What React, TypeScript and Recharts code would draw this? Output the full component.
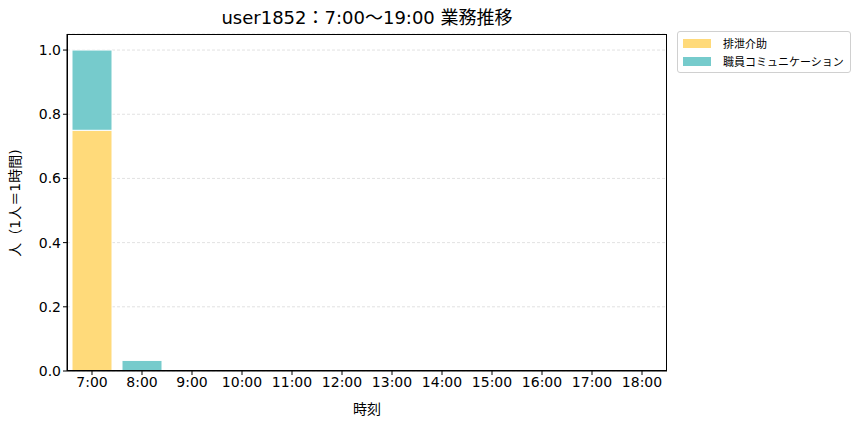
import React from 'react';
import { BarChart, Bar, XAxis, YAxis, CartesianGrid } from 'recharts';

const hours = ['7:00', '8:00', '9:00', '10:00', '11:00', '12:00', '13:00', '14:00', '15:00', '16:00', '17:00', '18:00'];
const excretion = [0.75, 0, 0, 0, 0, 0, 0, 0, 0, 0, 0, 0];
const staffComm = [0.25, 0.033, 0, 0, 0, 0, 0, 0, 0, 0, 0, 0];
const yTicks = [0, 0.2, 0.4, 0.6, 0.8, 1.0];

const seriesNames = ['排泄介助', '職員コミュニケーション'];
const seriesColors = ['#FFDA7A', '#76CBCC'];

const data = hours.map((h, i) => ({ hour: h, excretion: excretion[i], staffComm: staffComm[i] }));

const font = '"DejaVu Sans", "Noto Sans CJK JP", sans-serif';

// plot area in page pixels
const plot = { left: 67, top: 34, width: 600, height: 337 };

const LegendBox = () => (
  <div
    style={{
      position: 'absolute',
      left: 677,
      top: 31,
      border: '1px solid #d0d0d0',
      borderRadius: 3,
      padding: '2px 6px 2px 5px',
      background: '#fff',
      fontFamily: '"Noto Sans CJK JP", sans-serif',
      fontSize: 11,
      color: '#000',
    }}
  >
    {seriesNames.map((n, i) => (
      <div key={n} style={{ display: 'flex', alignItems: 'center', height: 18 }}>
        <span style={{ display: 'inline-block', width: 28, height: 9, background: seriesColors[i], marginRight: 12 }} />
        <span>{n}</span>
      </div>
    ))}
  </div>
);

export default function App() {
  return (
    <div style={{ position: 'absolute', left: 0, top: 0, width: 867, height: 429, background: '#fff' }}>
      <BarChart
        width={867}
        height={429}
        data={data}
        margin={{ top: plot.top, right: 867 - plot.left - plot.width, left: plot.left - 50, bottom: 429 - plot.top - plot.height - 30 }}
        barCategoryGap="10%"
        style={{ fontFamily: font }}
      >
        <text x={367} y={24} textAnchor="middle" fontSize={18} fontFamily={font} fill="#000">
          user1852：7:00〜19:00 業務推移
        </text>
        <text
          x={20}
          y={203}
          textAnchor="middle"
          fontSize={14}
          fontFamily={font}
          fill="#000"
          transform="rotate(-90 20 203)"
        >
          人（1人＝1時間)
        </text>
        <text x={367} y={414} textAnchor="middle" fontSize={14} fontFamily={font} fill="#000">
          時刻
        </text>
        <CartesianGrid vertical={false} stroke="#e2e2e2" strokeDasharray="3 2" />
        <XAxis
          dataKey="hour"
          height={30}
          interval={0}
          tick={{ fill: '#000', fontSize: 14 }}
          tickLine={{ stroke: '#000' }}
          axisLine={{ stroke: '#000' }}
          tickSize={4}
        />
        <YAxis
          width={50}
          domain={[0, 1.05]}
          ticks={yTicks}
          tickFormatter={(v: number) => v.toFixed(1)}
          tick={{ fill: '#000', fontSize: 14 }}
          tickLine={{ stroke: '#000' }}
          axisLine={{ stroke: '#000' }}
          tickSize={4}
          allowDataOverflow
        />
        <Bar dataKey="excretion" name={seriesNames[0]} stackId="a" fill={seriesColors[0]} stroke="#fff" strokeWidth={1} isAnimationActive={false} />
        <Bar dataKey="staffComm" name={seriesNames[1]} stackId="a" fill={seriesColors[1]} stroke="#fff" strokeWidth={1} isAnimationActive={false} />
      </BarChart>
      <div
        style={{
          position: 'absolute',
          left: plot.left,
          top: plot.top,
          width: plot.width,
          height: plot.height,
          border: '1px solid #000',
          boxSizing: 'border-box',
          pointerEvents: 'none',
        }}
      />
      <LegendBox />
    </div>
  );
}
